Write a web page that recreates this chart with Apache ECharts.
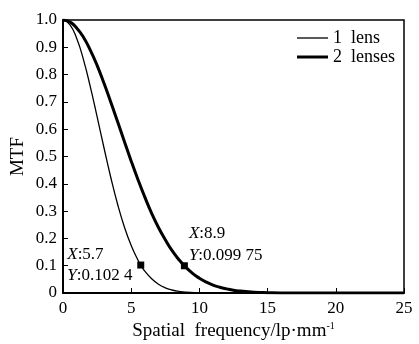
<!DOCTYPE html>
<html>
<head>
<meta charset="utf-8">
<script src="https://cdn.jsdelivr.net/npm/echarts@6/dist/echarts.min.js"></script>
<style>html,body{margin:0;padding:0;background:#fff}#c{width:419px;height:344px}</style>
</head>
<body>
<div id="c"></div>
<script>
// Spatial frequency (lp/mm) and MTF
const freq1 = [0,0.5,1,1.5,2,2.5,3,3.5,4,4.5,5,5.5,5.7,6,6.5,7,7.5,8,8.5,9,10,11,25];
const mtf1  = [1.000,0.983,0.933,0.855,0.756,0.646,0.533,0.424,0.326,0.242,0.174,0.120,0.1024,0.080,0.052,0.032,0.019,0.011,0.006,0.003,0.001,0,0];
const freq2 = [0,0.5,1,1.5,2,2.5,3,3.5,4,4.5,5,5.5,6,6.5,7,7.5,8,8.5,8.9,9.5,10,10.5,11,11.5,12,12.5,13,14,15,16,25];
const mtf2  = [1,0.993,0.971,0.937,0.890,0.834,0.769,0.700,0.628,0.555,0.483,0.415,0.351,0.292,0.240,0.195,0.155,0.122,0.09975,0.072,0.054,0.040,0.029,0.021,0.015,0.010,0.007,0.003,0.001,0,0];
const seriesNames = ['1 lens','2 lenses'];
const legendLabels = ['1  lens','2  lenses'];
const marked = [[5.7,0.1024],[8.9,0.09975]];
const markText = [['5.7','0.102 4'],['8.9','0.099 75']];
const xTicks = [0,5,10,15,20,25];
const yTicks = [0,0.1,0.2,0.3,0.4,0.5,0.6,0.7,0.8,0.9,1.0];

const F = 'Liberation Serif';
const chart = echarts.init(document.getElementById('c'));
const rich = {
  i:{fontFamily:F,fontStyle:'italic',fontSize:17,color:'#000',lineHeight:21.5},
  n:{fontFamily:F,fontSize:17,color:'#000',lineHeight:21.5}
};
function lbl(t){return '{i|X}{n|:'+t[0]+'}\n{i|Y}{n|:'+t[1]+'}';}
function legendCfg(idx, top, h){
  return {
    orient:'vertical',left:292,top:top,itemWidth:31,itemHeight:h,icon:'rect',
    data:[seriesNames[idx]],
    formatter:()=>legendLabels[idx],
    itemStyle:{color:'#000'},
    textStyle:{fontFamily:F,fontSize:18,color:'#000'}
  };
}
chart.setOption({
  animation:false,
  grid:{left:63,right:15,top:20,bottom:51,show:true,borderColor:'#000',borderWidth:1.5,backgroundColor:'transparent',outerBoundsMode:'none',containLabel:false},
  legend:[legendCfg(0,24,1.3),legendCfg(1,43,3)],
  xAxis:{
    type:'value',min:xTicks[0],max:xTicks[xTicks.length-1],interval:5,
    name:'{a|Spatial  frequency/lp·mm}{s|-1}',nameLocation:'middle',nameGap:28,nameMoveOverlap:false,
    nameTextStyle:{rich:{a:{fontFamily:F,fontSize:19,color:'#000'},s:{fontFamily:F,fontSize:10,color:'#000',padding:[0,0,11,0]}}},
    axisLine:{lineStyle:{color:'#000',width:2}},
    axisTick:{inside:true,length:5,lineStyle:{color:'#000',width:1}},
    axisLabel:{fontFamily:F,fontSize:17,color:'#000',margin:7},
    splitLine:{show:false}
  },
  yAxis:{
    type:'value',min:yTicks[0],max:yTicks[yTicks.length-1],interval:0.1,
    name:'MTF',nameLocation:'middle',nameGap:35,nameMoveOverlap:false,
    nameTextStyle:{fontFamily:F,fontSize:19,color:'#000'},
    axisLine:{show:true,lineStyle:{color:'#000',width:2}},
    axisTick:{show:true,inside:true,length:5,lineStyle:{color:'#000',width:1}},
    axisLabel:{fontFamily:F,fontSize:17,color:'#000',margin:6,
      formatter:v=>v===0?'0':v.toFixed(1)},
    splitLine:{show:false}
  },
  series:[
    {name:seriesNames[0],type:'line',symbol:'none',smooth:true,
     data:freq1.map((x,i)=>[x,mtf1[i]]),lineStyle:{color:'#000',width:1.3},itemStyle:{color:'#000'}},
    {name:seriesNames[1],type:'line',symbol:'none',smooth:true,
     data:freq2.map((x,i)=>[x,mtf2[i]]),lineStyle:{color:'#000',width:3},itemStyle:{color:'#000'}},
    {type:'scatter',symbol:'rect',symbolSize:7,itemStyle:{color:'#000',opacity:1},z:5,
     data:[
       {value:marked[0],label:{show:true,position:[-70,-18],formatter:lbl(markText[0]),rich:rich}},
       {value:marked[1],label:{show:true,position:[8,-39],formatter:lbl(markText[1]),rich:rich}}
     ]}
  ]
});
</script>
</body>
</html>
